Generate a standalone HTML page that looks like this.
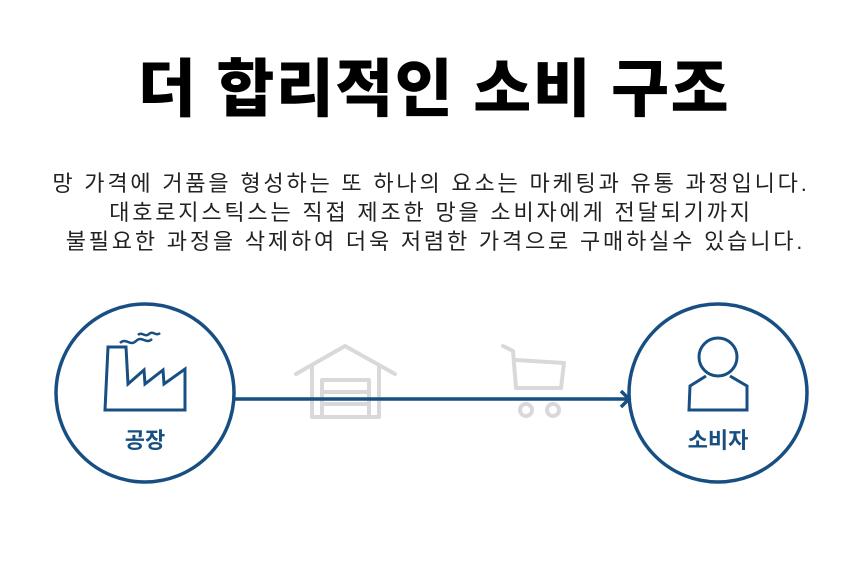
<!DOCTYPE html>
<html><head><meta charset="utf-8"><style>
body{margin:0;width:860px;height:570px;background:#fff;overflow:hidden;font-family:"Liberation Sans","Noto Sans CJK KR",sans-serif;}
.t{position:absolute;left:4px;width:860px;text-align:center;top:52px;font-size:63px;font-weight:900;color:#000;line-height:76px;letter-spacing:1.5px}
.p{position:absolute;left:1px;width:860px;text-align:center;top:169px;font-size:22px;color:#222;line-height:29px;letter-spacing:2.8px}
</style></head><body>
<div class="t">더 합리적인 소비 구조</div>
<div class="p">망 가격에 거품을 형성하는 또 하나의 요소는 마케팅과 유통 과정입니다.<br>대호로지스틱스는 직접 제조한 망을 소비자에게 전달되기까지<br>&nbsp;불필요한 과정을 삭제하여 더욱 저렴한 가격으로 구매하실수 있습니다.</div>
<svg width="860" height="570" style="position:absolute;left:0;top:0">
<g fill="none" stroke="#d9d9d9" stroke-width="4" stroke-linecap="round" stroke-linejoin="round">
<polyline points="296,374 345,346 395,374"/>
<polyline points="312,365 312,417 379,417 379,365"/>
<rect x="322" y="380" width="47" height="37"/>
<line x1="322" y1="392" x2="369" y2="392"/><line x1="322" y1="404" x2="369" y2="404"/>
<polyline points="503,346 513,351 516,388 561,388 564,363 516,360"/>
<circle cx="526" cy="410" r="6"/><circle cx="553" cy="410" r="6"/>
</g>
<g fill="none" stroke="#174f83" stroke-width="3.5">
<circle cx="145" cy="393" r="89"/>
<circle cx="718" cy="393" r="89"/>
<line x1="234" y1="399" x2="628" y2="399"/>
<polyline points="621,391 629,399 621,407" stroke-linejoin="miter"/>
<polygon points="105,410 108,347 126,347 128,384 144,370 145,384 163,370 164,384 185,369 185,410" stroke-width="3"/>
<path d="M120,343 c6,-6 10,4 16,-2 c6,-6 10,4 16,-2" stroke-width="2.5"/>
<path d="M138,335 c4,-4 7,3 11,-1 c4,-4 7,3 11,-1" stroke-width="2.5"/>
<circle cx="718" cy="357" r="19" stroke-width="3"/>
<path d="M706,376 L690,386 L689,410 L747,410 L747,386 L730,376" stroke-width="3"/>
</g>
<g font-family="Liberation Sans,Noto Sans CJK KR,sans-serif" font-weight="700" font-size="22" fill="#174f83" text-anchor="middle">
<text x="145" y="448">공장</text><text x="718" y="448">소비자</text>
</g>
</svg>
</body></html>
